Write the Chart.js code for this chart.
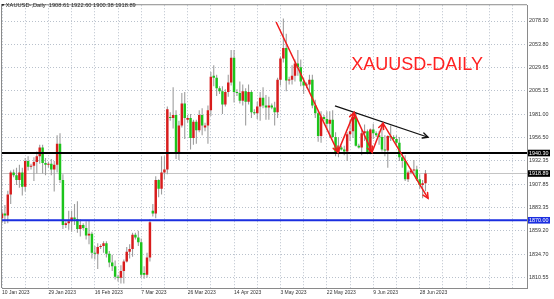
<!DOCTYPE html>
<html>
<head>
<meta charset="utf-8">
<script src="https://cdn.jsdelivr.net/npm/chart.js@4.4.0/dist/chart.umd.min.js"></script>
<style>
  html, body { margin: 0; padding: 0; background: #fff; overflow: hidden; }
  #wrap { width: 554px; height: 299px; }
</style>
</head>
<body>
<div id="wrap"><canvas id="c" width="554" height="299"></canvas></div>
<script>
// XAUUSD daily candles, 10 Jan 2023 - 30 Jun 2023 (Sunday sessions included)
const symbolTitle = 'XAUUSD-,Daily';
const chartCaption = 'XAUUSD-DAILY';

const dates = [
  "10 Jan 2023","11 Jan 2023","12 Jan 2023","13 Jan 2023","15 Jan 2023","16 Jan 2023","17 Jan 2023","18 Jan 2023","19 Jan 2023","20 Jan 2023",
  "22 Jan 2023","23 Jan 2023","24 Jan 2023","25 Jan 2023","26 Jan 2023","27 Jan 2023","29 Jan 2023","30 Jan 2023","31 Jan 2023","1 Feb 2023",
  "2 Feb 2023","3 Feb 2023","5 Feb 2023","6 Feb 2023","7 Feb 2023","8 Feb 2023","9 Feb 2023","10 Feb 2023","12 Feb 2023","13 Feb 2023",
  "14 Feb 2023","15 Feb 2023","16 Feb 2023","17 Feb 2023","19 Feb 2023","20 Feb 2023","21 Feb 2023","22 Feb 2023","23 Feb 2023","24 Feb 2023",
  "26 Feb 2023","27 Feb 2023","28 Feb 2023","1 Mar 2023","2 Mar 2023","3 Mar 2023","5 Mar 2023","6 Mar 2023","7 Mar 2023","8 Mar 2023",
  "9 Mar 2023","10 Mar 2023","12 Mar 2023","13 Mar 2023","14 Mar 2023","15 Mar 2023","16 Mar 2023","17 Mar 2023","19 Mar 2023","20 Mar 2023",
  "21 Mar 2023","22 Mar 2023","23 Mar 2023","24 Mar 2023","26 Mar 2023","27 Mar 2023","28 Mar 2023","29 Mar 2023","30 Mar 2023","31 Mar 2023",
  "2 Apr 2023","3 Apr 2023","4 Apr 2023","5 Apr 2023","6 Apr 2023","9 Apr 2023","10 Apr 2023","11 Apr 2023","12 Apr 2023","13 Apr 2023",
  "14 Apr 2023","16 Apr 2023","17 Apr 2023","18 Apr 2023","19 Apr 2023","20 Apr 2023","21 Apr 2023","23 Apr 2023","24 Apr 2023","25 Apr 2023",
  "26 Apr 2023","27 Apr 2023","28 Apr 2023","30 Apr 2023","1 May 2023","2 May 2023","3 May 2023","4 May 2023","5 May 2023","7 May 2023",
  "8 May 2023","9 May 2023","10 May 2023","11 May 2023","12 May 2023","14 May 2023","15 May 2023","16 May 2023","17 May 2023","18 May 2023",
  "19 May 2023","21 May 2023","22 May 2023","23 May 2023","24 May 2023","25 May 2023","26 May 2023","28 May 2023","29 May 2023","30 May 2023",
  "31 May 2023","1 Jun 2023","2 Jun 2023","4 Jun 2023","5 Jun 2023","6 Jun 2023","7 Jun 2023","8 Jun 2023","9 Jun 2023","11 Jun 2023",
  "12 Jun 2023","13 Jun 2023","14 Jun 2023","15 Jun 2023","16 Jun 2023","18 Jun 2023","19 Jun 2023","20 Jun 2023","21 Jun 2023","22 Jun 2023",
  "23 Jun 2023","25 Jun 2023","26 Jun 2023","27 Jun 2023","28 Jun 2023","29 Jun 2023","30 Jun 2023"
];

const opens = [
  1872,1877,1875,1897,1920,1917,1912,1920,1905,1932,
  1926,1927,1931,1937,1946,1930,1928,1929,1923,1928,
  1950,1912,1865,1867,1869,1873,1871,1861,1865,1862,
  1854,1856,1836,1835,1842,1843,1846,1835,1826,1822,
  1811,1810,1817,1827,1837,1840,1855,1852,1847,1815,
  1813,1831,1880,1877,1912,1903,1920,1923,1978,1977,
  1980,1940,1969,1992,1975,1977,1956,1973,1964,1980,
  1967,1969,1985,2021,2019,2008,2005,1991,2004,2014,
  2040,2004,2003,1995,2005,1994,2004,1983,1982,1989,
  1998,1990,1988,1990,1988,1983,2017,2039,2050,2016,
  2017,2021,2034,2030,2015,2011,2012,2017,1990,1982,
  1958,1978,1976,1971,1975,1957,1941,1946,1944,1942,
  1960,1963,1978,1948,1946,1961,1963,1940,1965,1961,
  1959,1957,1944,1943,1958,1957,1955,1951,1936,1932,
  1913,1920,1922,1923,1913,1907,1908.61
];
const highs = [
  1881,1886,1901,1922,1923,1925,1928,1925,1935,1937,
  1929,1936,1942,1949,1949,1935,1931,1934,1932,1959,
  1961,1918,1869,1880,1880,1887,1890,1871,1867,1869,
  1870,1858,1843,1846,1845,1848,1848,1838,1834,1828,
  1813,1823,1829,1842,1845,1857,1857,1859,1851,1822,
  1836,1871,1887,1916,1913,1937,1937,1989,1983,2009,
  1985,1974,2003,2004,1980,1981,1975,1975,1985,1987,
  1972,1990,2025,2032,2022,2010,2010,2007,2022,2048,
  2048,2007,2015,2012,2008,2012,2006,1986,1994,2004,
  2009,2001,1999,1992,1994,2019,2041,2081,2065,2020,
  2032,2038,2048,2038,2019,2014,2022,2022,1996,1984,
  1984,1980,1984,1984,1985,1962,1957,1948,1948,1962,
  1975,1983,1983,1950,1964,1970,1965,1966,1971,1963,
  1963,1972,1959,1959,1969,1959,1959,1957,1940,1938,
  1922,1924,1933,1927,1918,1912,1922.60
];
const lows = [
  1867,1866,1867,1887,1915,1907,1904,1896,1900,1922,
  1923,1911,1919,1929,1919,1917,1925,1917,1900,1920,
  1909,1861,1862,1860,1858,1865,1857,1853,1860,1850,
  1845,1830,1829,1819,1840,1836,1831,1821,1817,1808,
  1806,1804,1804,1826,1830,1832,1850,1843,1810,1809,
  1810,1827,1874,1872,1894,1897,1913,1918,1974,1966,
  1934,1933,1967,1955,1972,1944,1949,1950,1962,1959,
  1963,1950,1979,2010,2000,2002,1981,1989,1999,2011,
  1993,2000,1992,1990,1969,1991,1977,1980,1976,1974,
  1987,1975,1975,1986,1969,1977,2011,2035,2005,2012,
  2012,2015,2021,2010,2002,2008,2004,1987,1977,1952,
  1951,1974,1964,1956,1956,1937,1936,1943,1938,1932,
  1953,1956,1947,1945,1938,1953,1939,1939,1955,1957,
  1949,1942,1937,1925,1953,1954,1947,1932,1925,1911,
  1910,1918,1918,1911,1903,1893,1900.38
];
const closes = [
  1877,1875,1897,1920,1917,1912,1920,1905,1932,1926,
  1927,1931,1937,1946,1930,1928,1929,1923,1928,1950,
  1912,1865,1867,1869,1873,1871,1861,1865,1862,1854,
  1856,1836,1835,1842,1843,1846,1835,1826,1822,1811,
  1810,1817,1827,1837,1840,1855,1852,1847,1813,1813,
  1831,1868,1877,1912,1903,1920,1923,1986,1977,1980,
  1940,1969,1992,1977,1977,1956,1973,1964,1980,1969,
  1969,1985,2020,2019,2008,2005,1991,2004,2014,2040,
  2004,2003,1995,2005,1994,2004,1983,1982,1989,1998,
  1990,1988,1990,1988,1983,2017,2039,2050,2016,2017,
  2021,2034,2030,2015,2011,2012,2017,1990,1982,1958,
  1978,1976,1971,1975,1957,1941,1946,1944,1942,1960,
  1963,1978,1948,1946,1961,1963,1940,1965,1961,1959,
  1957,1944,1943,1958,1957,1955,1951,1936,1932,1913,
  1920,1922,1923,1913,1907,1908.61,1918.89
];

// Right-hand price scale labels
const priceTicks = [2078.30, 2053.80, 2029.65, 2005.15, 1981.00, 1956.50, 1932.35, 1907.85, 1883.35, 1859.20, 1834.70, 1810.55];

// Horizontal levels
const resistanceLevel = 1940.30;
const supportLevel = 1870.00;

// Drawn trend lines (bar index, price)
const redPath = [
  { x: 94.5, y: 2077.3 },
  { x: 115.8, y: 1941.3 },
  { x: 121.4, y: 1982.5 },
  { x: 127.6, y: 1941.3 },
  { x: 131.4, y: 1971.2 },
  { x: 146.9, y: 1892.9 }
];
const blackPath = [
  { x: 114.8, y: 1989.7 },
  { x: 146.9, y: 1956.8 }
];
const captionAnchor = { x: 143.1, y: 2027.1 };

// ---- styling ----
const UP = '#d81c1c';
const DOWN = '#1bc41b';
const WICK = '#9e9e9e';
const GRID = '#b9c1cc';
const FRAME = '#8a8a8a';
const TEXT = '#333333';
const FONT = "'Liberation Sans', Arial, sans-serif";
const X_MAX = 181;

const last = closes.length - 1;
const bidPrice = closes[last];

const wickData = dates.map((d, i) => ({ x: i, y: [lows[i], highs[i]] }));
const bodyData = dates.map((d, i) => ({ x: i, y: [opens[i], closes[i]] }));
const bodyColors = dates.map((d, i) => closes[i] >= opens[i] ? UP : DOWN);

const hLine = (v) => [{ x: 0, y: v }, { x: X_MAX, y: v }];

const overlay = {
  id: 'overlay',
  afterDatasetsDraw(chart) {
    const ctx = chart.ctx;
    // arrow heads at every vertex of the trend paths
    chart.data.datasets.forEach((ds, di) => {
      if (!ds.arrow) return;
      const pts = chart.getDatasetMeta(di).data;
      ctx.save();
      ctx.strokeStyle = ds.borderColor;
      ctx.lineWidth = ds.borderWidth;
      ctx.lineCap = 'round';
      for (let i = 1; i < pts.length; i++) {
        const p0 = pts[i - 1], p1 = pts[i];
        const a = Math.atan2(p1.y - p0.y, p1.x - p0.x);
        const L = 6, w = 0.45;
        ctx.beginPath();
        ctx.moveTo(p1.x - L * Math.cos(a - w), p1.y - L * Math.sin(a - w));
        ctx.lineTo(p1.x, p1.y);
        ctx.lineTo(p1.x - L * Math.cos(a + w), p1.y - L * Math.sin(a + w));
        ctx.stroke();
      }
      ctx.restore();
    });
  },
  afterDraw(chart) {
    const { ctx, chartArea: a, scales: { x, y } } = chart;
    ctx.save();
    // left and top frame
    ctx.strokeStyle = FRAME;
    ctx.lineWidth = 1;
    ctx.beginPath();
    ctx.moveTo(a.left - 0.5, a.bottom);
    ctx.lineTo(a.left - 0.5, a.top - 0.5);
    ctx.lineTo(a.right, a.top - 0.5);
    ctx.stroke();

    // header: symbol and last bar OHLC
    ctx.fillStyle = '#222';
    ctx.beginPath();
    ctx.moveTo(1.4, 4.0);
    ctx.lineTo(4.4, 4.0);
    ctx.lineTo(2.9, 6.6);
    ctx.closePath();
    ctx.fill();
    ctx.font = `5.7px ${FONT}`;
    ctx.textAlign = 'left';
    ctx.textBaseline = 'middle';
    const header = `${symbolTitle}  ${opens[last].toFixed(2)} ${highs[last].toFixed(2)} ${lows[last].toFixed(2)} ${closes[last].toFixed(2)}`;
    ctx.fillText(header, 5.8, 5.6);

    // caption
    ctx.font = `18px ${FONT}`;
    ctx.fillStyle = '#ff2121';
    ctx.textAlign = 'center';
    ctx.textBaseline = 'alphabetic';
    ctx.fillText(chartCaption, x.getPixelForValue(captionAnchor.x), y.getPixelForValue(captionAnchor.y));

    // price tags on the right scale
    const tags = [
      { v: resistanceLevel, bg: '#000000' },
      { v: bidPrice, bg: '#000000' },
      { v: supportLevel, bg: '#1a2ee0' }
    ];
    ctx.font = `5.4px ${FONT}`;
    ctx.textAlign = 'left';
    ctx.textBaseline = 'middle';
    tags.forEach(t => {
      const py = y.getPixelForValue(t.v);
      ctx.fillStyle = t.bg;
      ctx.fillRect(a.right + 1, py - 3.3, 22, 6.6);
      ctx.fillStyle = '#ffffff';
      ctx.fillText(t.v.toFixed(2), a.right + 2, py + 0.2);
    });
    ctx.restore();
  }
};

new Chart(document.getElementById('c'), {
  type: 'bar',
  data: {
    datasets: [
      { type: 'line', data: hLine(bidPrice), borderColor: '#c4c4c4', borderWidth: 1, pointRadius: 0, order: 9 },
      { type: 'bar', data: wickData, backgroundColor: WICK, barPercentage: 0.38, categoryPercentage: 1, grouped: false, order: 8 },
      { type: 'bar', data: bodyData, backgroundColor: bodyColors, barPercentage: 0.85, categoryPercentage: 1, grouped: false, minBarLength: 1, order: 7 },
      { type: 'line', data: hLine(resistanceLevel), borderColor: '#000000', borderWidth: 2, pointRadius: 0, order: 4 },
      { type: 'line', data: hLine(supportLevel), borderColor: '#1a2ee0', borderWidth: 2, pointRadius: 0, order: 3 },
      { type: 'line', data: blackPath, borderColor: '#111111', borderWidth: 1.3, pointRadius: 0, arrow: true, order: 2 },
      { type: 'line', data: redPath, borderColor: '#f01c1c', borderWidth: 1.5, pointRadius: 0, arrow: true, order: 1 }
    ]
  },
  options: {
    responsive: false,
    animation: false,
    devicePixelRatio: 1,
    events: [],
    layout: { padding: { left: 2, top: 1, right: 0, bottom: 0 } },
    plugins: { legend: { display: false }, tooltip: { enabled: false } },
    scales: {
      x: {
        type: 'linear',
        min: 0,
        max: X_MAX,
        offset: false,
        grid: { color: GRID, lineWidth: 1, drawTicks: false, offset: false },
        border: { display: true, color: FRAME, dash: [1, 2] },
        afterBuildTicks: (s) => {
          const t = [];
          for (let v = 0; v <= X_MAX; v += 8) t.push({ value: v });
          s.ticks = t;
        },
        afterFit: (s) => { s.height = 11; },
        ticks: {
          autoSkip: false,
          maxRotation: 0,
          minRotation: 0,
          align: 'start',
          padding: 2,
          color: TEXT,
          font: { family: FONT, size: 5 },
          callback: (v) => (Number.isInteger(v) && v % 16 === 0 && dates[v]) ? dates[v] : ''
        }
      },
      y: {
        position: 'right',
        min: 1799.22,
        max: 2094.78,
        grid: { color: GRID, lineWidth: 1, drawTicks: false },
        border: { display: true, color: FRAME, dash: [1, 2] },
        afterBuildTicks: (s) => { s.ticks = priceTicks.map(v => ({ value: v })); },
        afterFit: (s) => { s.width = 27; },
        ticks: {
          padding: 2,
          color: TEXT,
          font: { family: FONT, size: 5.4 },
          callback: (v) => Number(v).toFixed(2)
        }
      }
    }
  },
  plugins: [overlay]
});
</script>
</body>
</html>
